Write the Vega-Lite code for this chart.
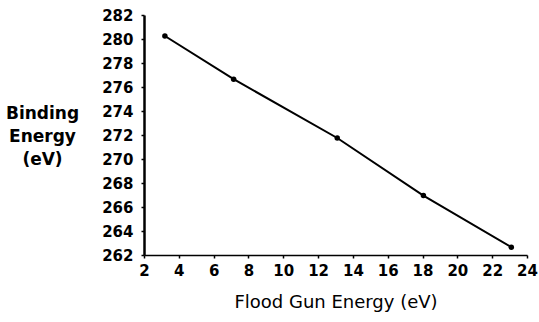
{
  "$schema": "https://vega.github.io/schema/vega-lite/v6.json",
  "width": 383,
  "height": 240,
  "autosize": "none",
  "padding": {"left": 144, "top": 15, "right": 12, "bottom": 67},
  "background": "white",
  "config": {"view": {"stroke": null}, "font": "DejaVu Sans"},
  "data": {"values": [
    {"flood": 3.2, "binding": 280.25},
    {"flood": 7.15, "binding": 276.65},
    {"flood": 13.1, "binding": 271.75},
    {"flood": 18.05, "binding": 266.95},
    {"flood": 23.1, "binding": 262.65}
  ]},
  "layer": [
    {
      "mark": {"type": "line", "color": "black", "strokeWidth": 2},
      "encoding": {
        "x": {"field": "flood", "type": "quantitative",
          "scale": {"domain": [2, 24], "nice": false, "zero": false},
          "axis": {"values": [2,4,6,8,10,12,14,16,18,20,22,24], "tickCount": 40, "format": "d", "grid": false,
            "labelOverlap": false, "labelFlush": false, "labelBound": false,
            "title": "Flood Gun Energy (eV)", "titleFontSize": 18, "titleFontWeight": "normal",
            "titleColor": "black", "titlePadding": 15,
            "labelFontSize": 15, "labelFontWeight": "bold", "labelColor": "black", "labelPadding": 5,
            "domainColor": "black", "domainWidth": 1.5, "tickColor": "black", "tickSize": 3, "tickWidth": 1.5}},
        "y": {"field": "binding", "type": "quantitative",
          "scale": {"domain": [262, 282], "nice": false, "zero": false},
          "axis": {"values": [262,264,266,268,270,272,274,276,278,280,282], "tickCount": 40, "format": "d", "grid": false,
            "labelOverlap": false, "labelFlush": false, "labelBound": false,
            "title": ["Binding", "Energy", "(eV)"], "titleAngle": 0, "titleAlign": "center",
            "titleBaseline": "alphabetic", "titleX": -102, "titleY": 103, "titleLineHeight": 23,
            "titleFontSize": 17, "titleFontWeight": "bold", "titleColor": "black",
            "labelFontSize": 15, "labelFontWeight": "bold", "labelColor": "black", "labelPadding": 8,
            "domainColor": "black", "domainWidth": 2.5, "tickColor": "black", "tickSize": 3, "tickWidth": 1.5}}
      }
    },
    {
      "mark": {"type": "point", "filled": true, "color": "black", "size": 30, "opacity": 1},
      "encoding": {
        "x": {"field": "flood", "type": "quantitative"},
        "y": {"field": "binding", "type": "quantitative"}
      }
    }
  ]
}
